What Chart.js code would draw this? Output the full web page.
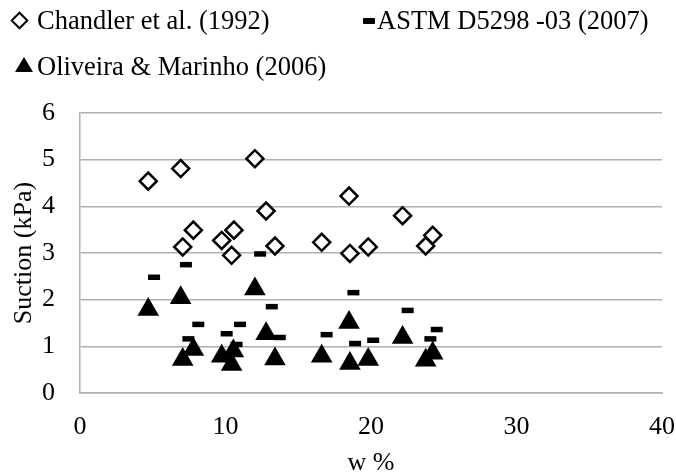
<!DOCTYPE html>
<html>
<head>
<meta charset="utf-8">
<script src="https://cdn.jsdelivr.net/npm/chart.js@4/dist/chart.umd.min.js"></script>
<style>
html,body{margin:0;padding:0;background:#fff;}
#wrap{position:relative;width:676px;height:475px;overflow:hidden;}
#c{position:absolute;left:0;top:0;}
.lg{position:absolute;font-family:"Liberation Serif","Times New Roman",serif;font-size:26.5px;line-height:26px;color:#000;white-space:nowrap;}
.dia{position:absolute;width:9px;height:9px;border:2.5px solid #000;background:#fff;transform:rotate(45deg);}
.dash{position:absolute;width:12px;height:5.5px;background:#000;border-radius:1px;}
.tri{position:absolute;width:0;height:0;border-left:9px solid transparent;border-right:9px solid transparent;border-bottom:15px solid #000;}
</style>
</head>
<body>
<div id="wrap">
<canvas id="c" width="676" height="475"></canvas>
<div class="dia" style="left:13px;top:14px;"></div>
<div class="lg" style="left:37px;top:7px;">Chandler et al. (1992)</div>
<div class="dash" style="left:363px;top:18px;"></div>
<div class="lg" style="left:377px;top:7px;">ASTM D5298 -03 (2007)</div>
<div class="tri" style="left:15px;top:57px;"></div>
<div class="lg" style="left:37px;top:53px;">Oliveira &amp; Marinho (2006)</div>
</div>
<script>
// Data
const wChandler = [4.69, 6.92, 12.02, 12.79, 7.79, 7.06, 9.74, 10.58, 10.42, 13.40, 16.61, 18.49, 18.55, 19.81, 22.17, 24.24, 23.76];
const sChandler = [4.54, 4.81, 5.02, 3.90, 3.49, 3.13, 3.27, 3.49, 2.95, 3.15, 3.23, 4.22, 2.99, 3.13, 3.80, 3.38, 3.15];

const wASTM = [5.09, 7.28, 12.38, 13.18, 8.13, 7.45, 10.08, 11.00, 10.76, 13.73, 16.95, 18.79, 18.91, 20.15, 22.52, 24.52, 24.08];
const sASTM = [2.48, 2.75, 2.98, 1.85, 1.47, 1.16, 1.27, 1.47, 1.04, 1.19, 1.25, 2.15, 1.06, 1.13, 1.77, 1.36, 1.16];

const wOliveira = [4.69, 6.92, 12.02, 12.79, 7.79, 7.06, 9.74, 10.54, 10.42, 13.40, 16.61, 18.49, 18.55, 19.81, 22.17, 24.24, 23.76];
const sOliveira = [1.79, 2.04, 2.23, 1.27, 0.93, 0.72, 0.79, 0.90, 0.61, 0.73, 0.79, 1.51, 0.63, 0.72, 1.19, 0.85, 0.70];

const xTicks = [0, 10, 20, 30, 40];
const yTicks = [0, 1, 2, 3, 4, 5, 6];

const xTitle = 'w %';
const yTitle = 'Suction (kPa)';

function pts(xs, ys) { return xs.map((x, i) => ({ x: x, y: ys[i] })); }

const FONT = '"Liberation Serif", "Times New Roman", serif';
const GRID = '#b0b0b0';

new Chart(document.getElementById('c').getContext('2d'), {
  type: 'scatter',
  data: {
    datasets: [
      {
        label: 'Chandler et al. (1992)',
        data: pts(wChandler, sChandler),
        pointStyle: 'rectRot',
        pointRadius: 8.5,
        pointHoverRadius: 8.5,
        pointBorderWidth: 2.5,
        pointBorderColor: '#000',
        pointBackgroundColor: '#fff'
      },
      {
        label: 'ASTM D5298 -03 (2007)',
        data: pts(wASTM, sASTM),
        pointStyle: 'line',
        pointRadius: 6,
        pointHoverRadius: 6,
        pointBorderWidth: 5.5,
        pointBorderColor: '#000',
        pointBackgroundColor: '#000'
      },
      {
        label: 'Oliveira & Marinho (2006)',
        data: pts(wOliveira, sOliveira),
        pointStyle: 'triangle',
        pointRadius: 12.5,
        pointHoverRadius: 12.5,
        pointBorderWidth: 0,
        pointBorderColor: '#000',
        pointBackgroundColor: '#000'
      }
    ]
  },
  options: {
    responsive: false,
    animation: false,
    devicePixelRatio: 1,
    events: [],
    layout: { padding: { top: 113, right: 14, bottom: 0, left: 0 } },
    plugins: { legend: { display: false }, tooltip: { enabled: false } },
    scales: {
      x: {
        type: 'linear',
        min: xTicks[0],
        max: xTicks[xTicks.length - 1],
        afterBuildTicks: (s) => { s.ticks = xTicks.map(v => ({ value: v })); },
        ticks: { color: '#000', font: { family: FONT, size: 26 }, padding: 19, maxRotation: 0 },
        grid: { display: false, drawTicks: false },
        border: { display: true, color: GRID, width: 1.5 },
        title: { display: true, text: xTitle, color: '#000', font: { family: FONT, size: 26, lineHeight: 0.9 }, padding: { top: 0, bottom: 0 } },
        afterFit: (s) => { s.height = 82; s.paddingLeft = 0; s.paddingRight = 0; }
      },
      y: {
        type: 'linear',
        min: yTicks[0],
        max: yTicks[yTicks.length - 1],
        afterBuildTicks: (s) => { s.ticks = yTicks.map(v => ({ value: v })); },
        ticks: { color: '#000', font: { family: FONT, size: 26 }, padding: 25 },
        grid: { color: GRID, lineWidth: 1.5, drawTicks: false },
        border: { display: true, color: GRID, width: 1.5 },
        title: { display: true, text: yTitle, color: '#000', font: { family: FONT, size: 26 }, padding: { top: 9, bottom: 0 } },
        afterFit: (s) => { s.width = 80; }
      }
    }
  }
});
</script>
</body>
</html>
